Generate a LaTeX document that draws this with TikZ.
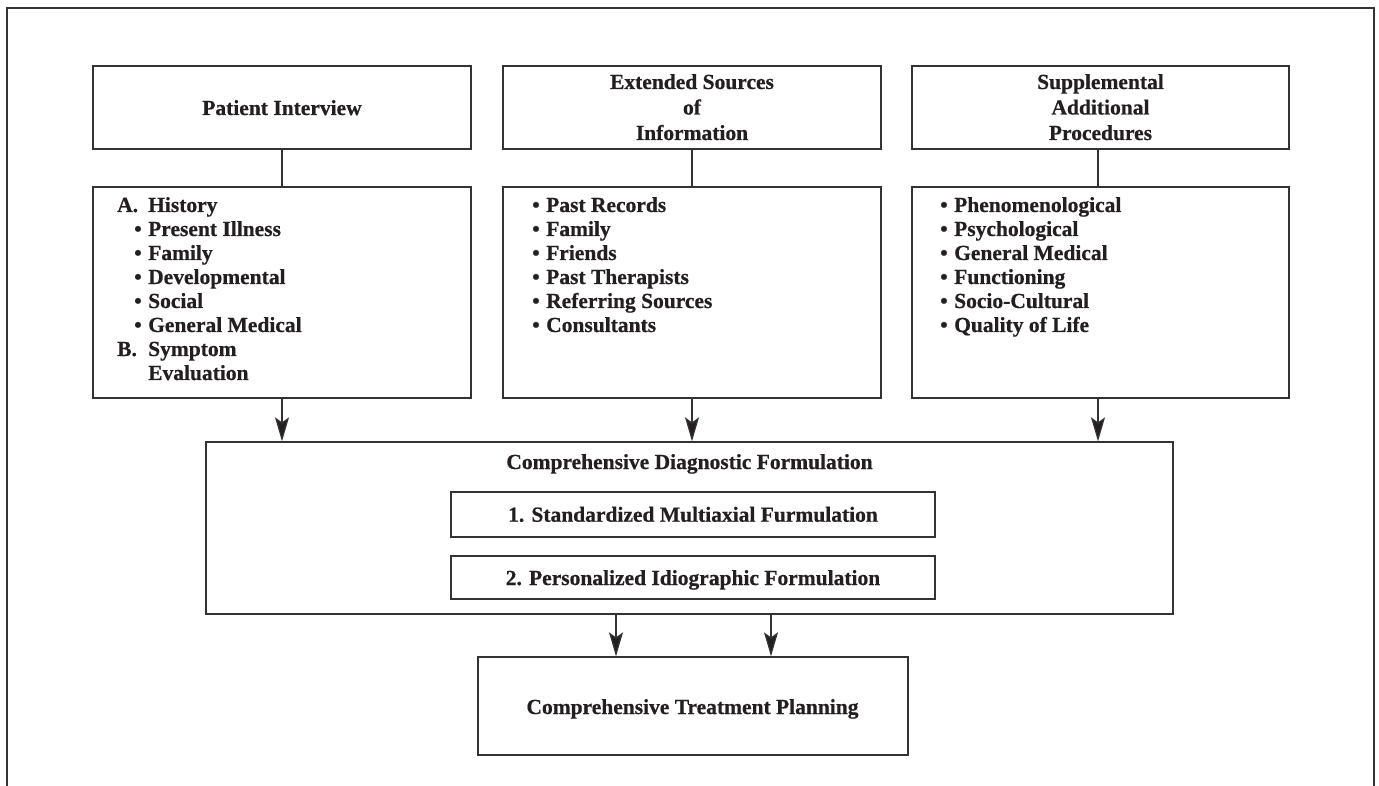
\documentclass[tikz,border=0pt]{standalone}
\usepackage{fontspec}
\setmainfont{Liberation Serif}[BoldFeatures={FakeBold=0.6}]
\usetikzlibrary{arrows.meta}
\definecolor{ink}{HTML}{231F20}
\definecolor{ln}{HTML}{333333}
\newcommand\ctrline[1]{\hbox to 0pt{\hss #1\hss}}
\newcommand\bulitem[1]{\hbox{\makebox[14pt][l]{\textbullet}#1}}
\newcommand\subbul[1]{\hbox{\hspace*{17pt}\makebox[14pt][l]{\textbullet}#1}}
\newcommand\lettitem[2]{\hbox{\makebox[31pt][l]{#1}#2}}
\begin{document}
\begin{tikzpicture}[x=1pt,y=-1pt,
  box/.style={draw=ln, line width=1.3pt, inner sep=0pt, fill=none},
  txt/.style={inner sep=0pt, anchor=base, text=ink, font=\bfseries\fontsize{21.5}{24}\selectfont},
  lst/.style={txt, anchor=base west},
  con/.style={draw=ln, line width=1.3pt},
  arr/.style={draw=ln, line width=1.3pt, -{Stealth[length=24pt,width=14pt,inset=5pt,fill=ink]}}]
\useasboundingbox (0,0) rectangle (1379,786);
% outer frame (open at bottom)
\draw[draw=ln, line width=1.5pt] (7,786) -- (7,8) -- (1374,8) -- (1374,786);

% header boxes
\node[box, minimum width=378pt, minimum height=83pt] (pi) at (282,107.5) {};
\node[box, minimum width=378pt, minimum height=83pt] (es) at (692,107.5) {};
\node[box, minimum width=377pt, minimum height=83pt] (sp) at (1100.5,107.5) {};
\node[txt] (piT) at (282,115) {Patient Interview};
\node[txt] (esT) at (692,89) {\vtop{\baselineskip=25.5pt
  \ctrline{Extended Sources}\ctrline{of}\ctrline{Information}}};
\node[txt] (spT) at (1100.5,89) {\vtop{\baselineskip=25.5pt
  \ctrline{Supplemental}\ctrline{Additional}\ctrline{Procedures}}};

% list boxes
\node[box, minimum width=378pt, minimum height=211pt] (piL) at (282,292.5) {};
\node[box, minimum width=378pt, minimum height=211pt] (esL) at (692,292.5) {};
\node[box, minimum width=377pt, minimum height=211pt] (spL) at (1100.5,292.5) {};
\node[lst] (piLT) at (117,212) {\vtop{\baselineskip=24pt
  \lettitem{A.}{History}
  \subbul{Present Illness}
  \subbul{Family}
  \subbul{Developmental}
  \subbul{Social}
  \subbul{General Medical}
  \lettitem{B.}{Symptom}
  \lettitem{}{Evaluation}}};
\node[lst] (esLT) at (532,212) {\vtop{\baselineskip=24pt
  \bulitem{Past Records}
  \bulitem{Family}
  \bulitem{Friends}
  \bulitem{Past Therapists}
  \bulitem{Referring Sources}
  \bulitem{Consultants}}};
\node[lst] (spLT) at (940,212) {\vtop{\baselineskip=24pt
  \bulitem{Phenomenological}
  \bulitem{Psychological}
  \bulitem{General Medical}
  \bulitem{Functioning}
  \bulitem{Socio-Cultural}
  \bulitem{Quality of Life}}};

% diagnostic formulation
\node[box, minimum width=967pt, minimum height=172pt] (df) at (689.5,528) {};
\node[txt] (dfT) at (689.5,469) {Comprehensive Diagnostic Formulation};
\node[box, minimum width=484pt, minimum height=45pt] (s1) at (693,514.5) {};
\node[txt] (s1T) at (693,521.7) {1. Standardized Multiaxial Furmulation};
\node[box, minimum width=484pt, minimum height=43pt] (s2) at (693,577.5) {};
\node[txt] (s2T) at (693,585) {2. Personalized Idiographic Formulation};

% treatment planning
\node[box, minimum width=430pt, minimum height=98pt] (tp) at (693,706) {};
\node[txt] (tpT) at (692.5,714) {Comprehensive Treatment Planning};

% connectors
\draw[con] (pi.south) -- (piL.north);
\draw[con] (es.south) -- (esL.north);
\draw[con] ([xshift=-2.5pt]sp.south) -- ([xshift=-2.5pt]spL.north);
\draw[arr] (piL.south) -- (piL.south |- df.north);
\draw[arr] (esL.south) -- (esL.south |- df.north);
\coordinate (spB) at ([xshift=-2.5pt]spL.south);
\draw[arr] (spB) -- (spB |- df.north);
\coordinate (t1) at ([xshift=-77pt]tp.north);
\coordinate (t2) at ([xshift=78pt]tp.north);
\draw[arr] (t1 |- df.south) -- (t1);
\draw[arr] (t2 |- df.south) -- (t2);
\end{tikzpicture}
\end{document}
